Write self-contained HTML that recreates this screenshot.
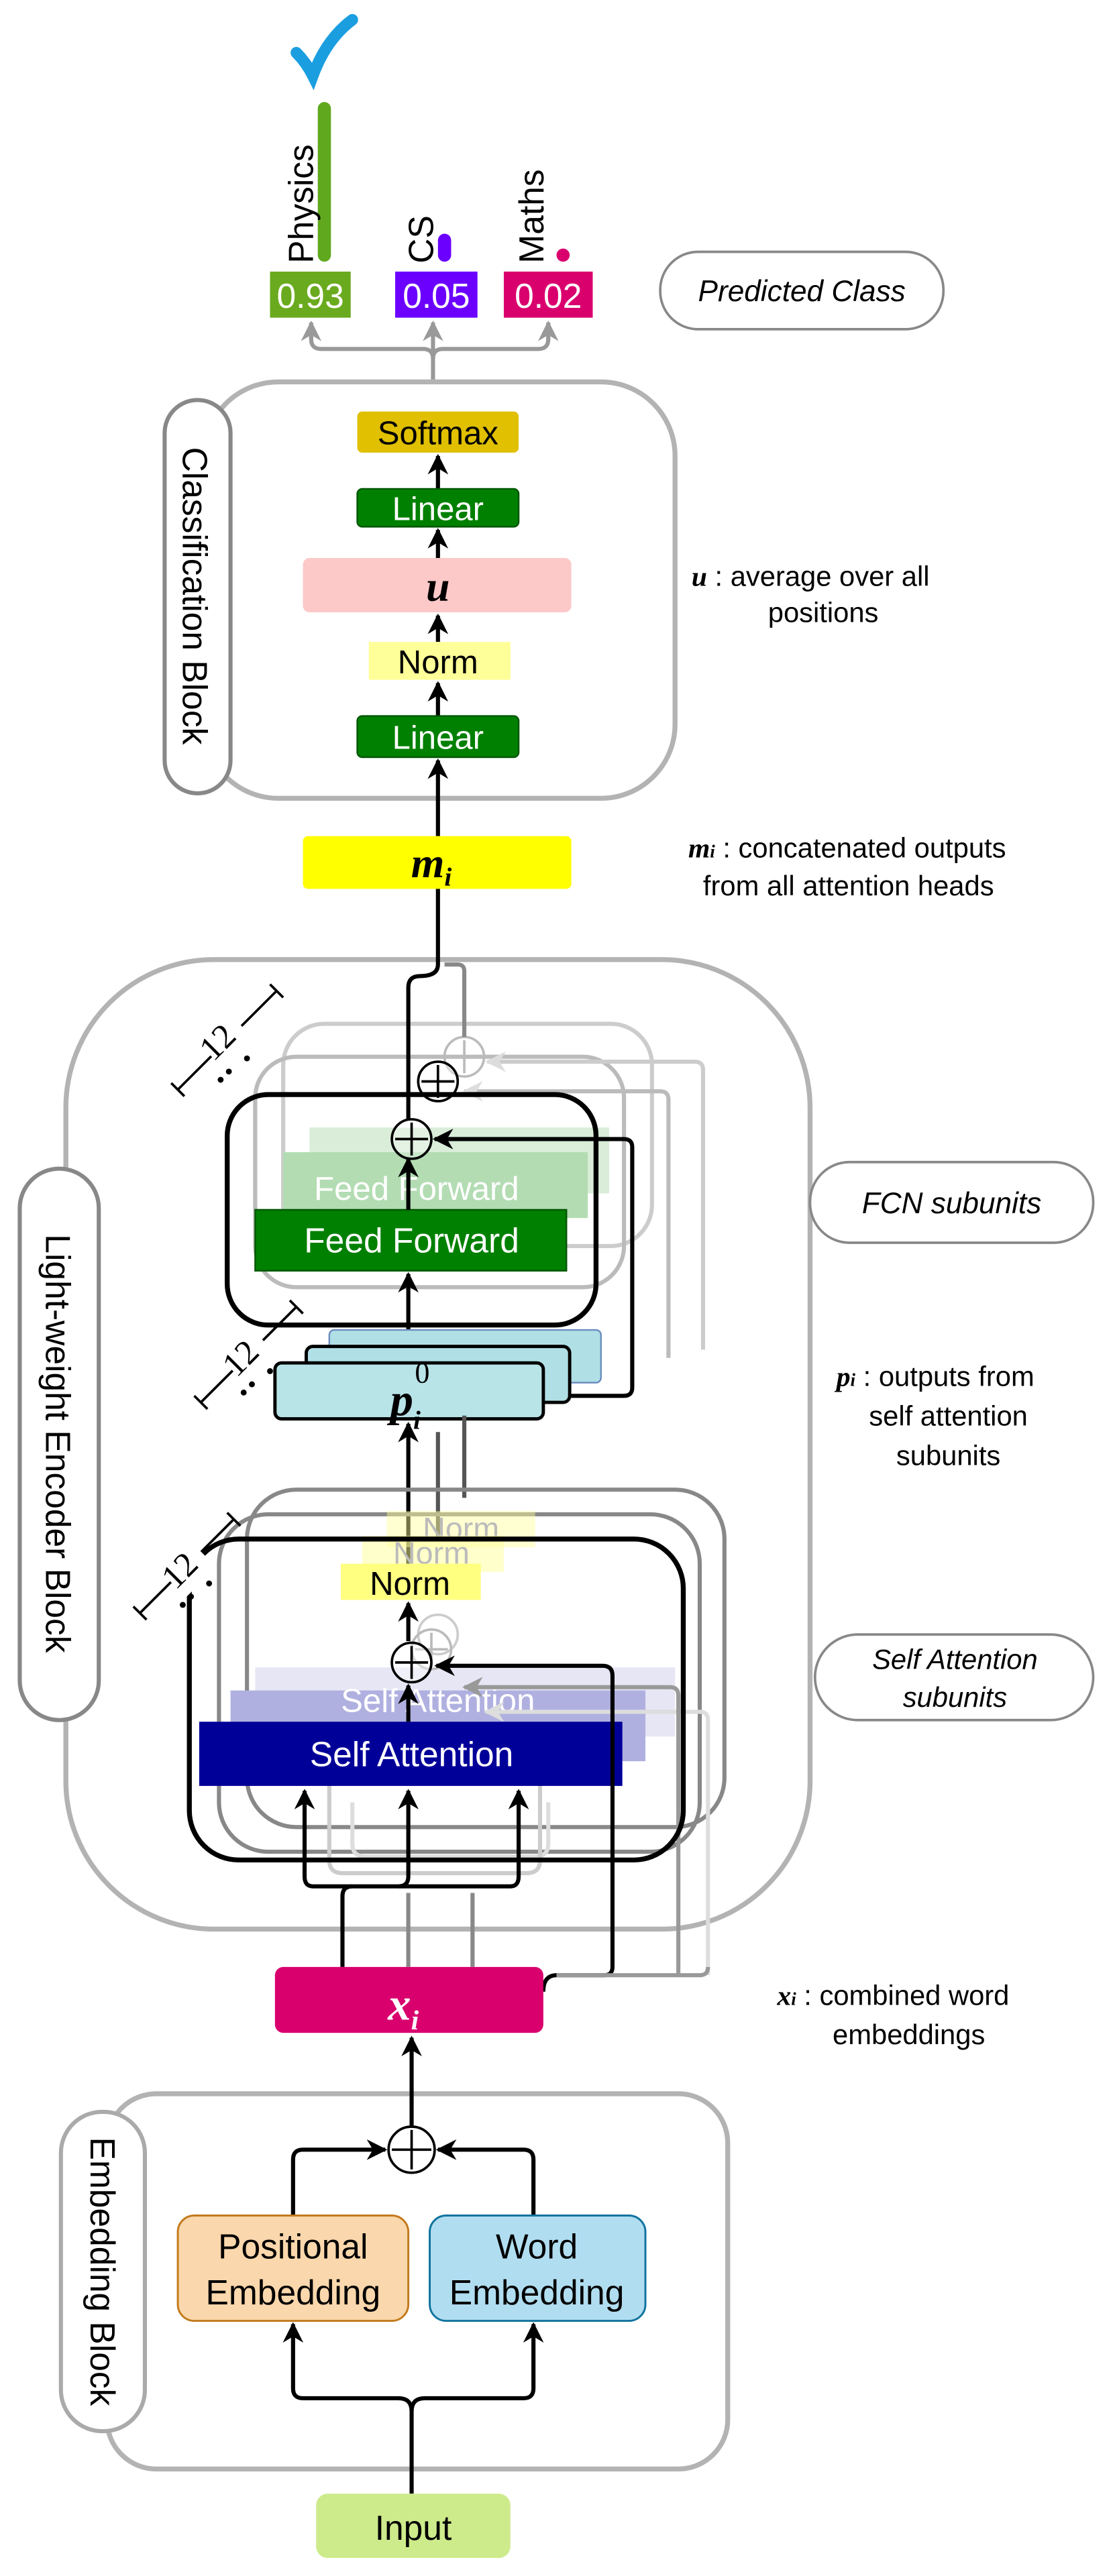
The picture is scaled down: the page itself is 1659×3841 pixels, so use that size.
<!DOCTYPE html>
<html><head><meta charset="utf-8"><style>html,body{margin:0;padding:0;background:#fff}svg{display:block}</style></head>
<body>
<svg width="1659" height="3841" viewBox="0 0 676 1565" preserveAspectRatio="none" xmlns="http://www.w3.org/2000/svg" font-family="Liberation Sans, sans-serif">
<defs>
<marker id="ab" viewBox="0 0 10 10" refX="9" refY="5" markerWidth="5" markerHeight="5" orient="auto"><path d="M0,0 L10,5 L0,10 L3,5z" fill="#000"/></marker>
<marker id="ag" viewBox="0 0 10 10" refX="9" refY="5" markerWidth="5" markerHeight="5" orient="auto"><path d="M0,0 L10,5 L0,10 L3,5z" fill="#999"/></marker>
<marker id="al" viewBox="0 0 10 10" refX="9" refY="5" markerWidth="5" markerHeight="5" orient="auto"><path d="M0,0 L10,5 L0,10 L3,5z" fill="#ddd"/></marker>
</defs>

<path d="M180,32 Q186,38 190,46 Q198,24 214,12" fill="none" stroke="#1a9ee0" stroke-width="7" stroke-linecap="round"/>
<rect x="193" y="62" width="8" height="97" rx="4" fill="#60a91e"/>
<rect x="266" y="142" width="8" height="17" rx="4" fill="#6b00ff"/>
<circle cx="342" cy="155" r="4" fill="#d9006e"/>
<text transform="translate(190,160) rotate(-90)" font-size="21">Physics</text>
<text transform="translate(263,160) rotate(-90)" font-size="21">CS</text>
<text transform="translate(330,160) rotate(-90)" font-size="21">Maths</text>
<rect x="164" y="165" width="49" height="28" fill="#6aaa1e"/>
<rect x="240" y="165" width="50" height="28" fill="#6b00ff"/>
<rect x="306" y="165" width="54" height="28" fill="#d9006e"/>
<text x="188.5" y="187" font-size="21" fill="#fff" text-anchor="middle">0.93</text>
<text x="265" y="187" font-size="21" fill="#fff" text-anchor="middle">0.05</text>
<text x="333" y="187" font-size="21" fill="#fff" text-anchor="middle">0.02</text>
<rect x="401" y="153" width="172" height="47" rx="23" fill="#fff" stroke="#888" stroke-width="1.5"/>
<text x="487" y="183" font-size="18" font-style="italic" text-anchor="middle">Predicted Class</text>
<path d="M263,250 V218 M263,218 Q263,212 257,212 H195 Q189,212 189,206 V196 M263,218 Q263,212 269,212 H327 Q333,212 333,206 V196 M263,218 V196" fill="none" stroke="#999" stroke-width="2.5" marker-end="url(#ag)"/>
<path d="M189,206 V196" stroke="#999" stroke-width="2.5" marker-end="url(#ag)"/>
<path d="M333,206 V196" stroke="#999" stroke-width="2.5" marker-end="url(#ag)"/>

<rect x="124" y="232" width="286" height="253" rx="45" fill="#fff" stroke="#b3b3b3" stroke-width="3"/>
<rect x="100" y="243" width="40" height="239" rx="20" fill="#fff" stroke="#888" stroke-width="2.5"/>
<text transform="translate(111,362) rotate(90)" font-size="21" text-anchor="middle">Classification Block</text>
<path d="M266,508 V462" stroke="#000" stroke-width="2.5" marker-end="url(#ab)"/>
<path d="M266,435 V415" stroke="#000" stroke-width="2.5" marker-end="url(#ab)"/>
<path d="M266,390 V374" stroke="#000" stroke-width="2.5" marker-end="url(#ab)"/>
<path d="M266,339 V322" stroke="#000" stroke-width="2.5" marker-end="url(#ab)"/>
<path d="M266,297 V277" stroke="#000" stroke-width="2.5" marker-end="url(#ab)"/>
<rect x="217" y="250" width="98" height="25" rx="3" fill="#e0c000"/>
<text x="266" y="270" font-size="20" text-anchor="middle">Softmax</text>
<rect x="217" y="297" width="98" height="23" rx="3" fill="#008000" stroke="#005700"/>
<text x="266" y="316" font-size="20" fill="#fff" text-anchor="middle">Linear</text>
<rect x="184" y="339" width="163" height="33" rx="4" fill="#fcc8c8"/>
<text x="266" y="365" font-size="26" font-style="italic" font-family="Liberation Serif, serif" font-weight="bold" text-anchor="middle">u</text>
<rect x="224" y="390" width="86" height="23" fill="#ffff99"/>
<text x="266" y="409" font-size="20" text-anchor="middle">Norm</text>
<rect x="217" y="435" width="98" height="25" rx="3" fill="#008000" stroke="#005700"/>
<text x="266" y="455" font-size="20" fill="#fff" text-anchor="middle">Linear</text>
<text x="420" y="356" font-size="17"><tspan font-style="italic" font-weight="bold" font-family="Liberation Serif, serif">u</tspan> : average over all</text>
<text x="500" y="378" font-size="17" text-anchor="middle">positions</text>

<rect x="184" y="508" width="163" height="32" rx="3" fill="#ffff00"/>
<text x="262" y="533" font-size="26" font-style="italic" font-weight="bold" font-family="Liberation Serif, serif" text-anchor="middle">m<tspan font-size="16" dy="5">i</tspan></text>
<text x="418" y="521" font-size="17"><tspan font-style="italic" font-weight="bold" font-family="Liberation Serif, serif">m<tspan font-size="11">i</tspan></tspan> : concatenated outputs</text>
<text x="427" y="544" font-size="17">from all attention heads</text>

<rect x="40" y="583" width="452" height="589" rx="90" fill="#fff" stroke="#b3b3b3" stroke-width="3"/>
<rect x="12" y="710" width="48" height="335" rx="24" fill="#fff" stroke="#888" stroke-width="2.5"/>
<text transform="translate(28,877) rotate(90)" font-size="21" text-anchor="middle">Light-weight Encoder Block</text>

<rect x="172" y="622" width="224" height="135" rx="25" fill="none" stroke="#ccc" stroke-width="2.5"/>
<rect x="155" y="642" width="224" height="140" rx="25" fill="none" stroke="#bbb" stroke-width="2.5"/>
<rect x="188" y="685" width="182" height="40" fill="#b3dcb3" opacity="0.5"/>
<rect x="172" y="700" width="185" height="40" fill="#b3dcb3"/>
<text x="253" y="729" font-size="20" fill="#fff" text-anchor="middle">Feed Forward</text>
<path d="M427,820 V650 Q427,645 422,645 H296" fill="none" stroke="#ccc" stroke-width="2.5" marker-end="url(#al)"/>
<path d="M406,825 V668 Q406,663 401,663 H282" fill="none" stroke="#bbb" stroke-width="2.5" marker-end="url(#al)"/>
<circle cx="282" cy="642" r="12" fill="none" stroke="#bbb" stroke-width="1.5"/>
<path d="M272,642 H292 M282,632 V652" stroke="#bbb" stroke-width="1.5"/>
<circle cx="266" cy="657" r="12" fill="#fff" fill-opacity="0.4" stroke="#000" stroke-width="1.5"/>
<path d="M256,657 H276 M266,647 V667" stroke="#000" stroke-width="1.5"/>
<path d="M282,630 V590 Q282,586 278,586 H270" fill="none" stroke="#888" stroke-width="2.5"/>

<rect x="138" y="665" width="224" height="140" rx="25" fill="none" stroke="#000" stroke-width="3"/>
<rect x="155" y="735" width="189" height="37" fill="#008000" stroke="#005700"/>
<text x="250" y="761" font-size="21" fill="#fff" text-anchor="middle">Feed Forward</text>
<path d="M248,735 V704" stroke="#000" stroke-width="2.5" marker-end="url(#ab)"/>
<path d="M248,828 V774" stroke="#000" stroke-width="2.5" marker-end="url(#ab)"/>
<circle cx="250" cy="692" r="12" fill="#fff" fill-opacity="0.3" stroke="#000" stroke-width="1.5"/>
<path d="M240,692 H260 M250,682 V702" stroke="#000" stroke-width="1.5"/>
<path d="M248,680 V600 Q248,593 255,593 Q266,593 266,586 V540" fill="none" stroke="#000" stroke-width="2.5"/>
<path d="M330,848 H379 Q384,848 384,843 V697 Q384,692 379,692 H264" fill="none" stroke="#000" stroke-width="2.5" marker-end="url(#ab)"/>

<rect x="200" y="808" width="165" height="32" rx="3" fill="#b0e0e6" stroke="#6c8ebf" stroke-width="1"/>
<text x="277" y="830" font-size="14" font-family="Liberation Serif, serif">11</text>
<rect x="186" y="818" width="160" height="34" rx="4" fill="#b0e0e6" stroke="#000" stroke-width="2"/>
<text x="262" y="840" font-size="14" font-family="Liberation Serif, serif">1</text>
<rect x="167" y="828" width="163" height="34" rx="4" fill="#b8e4e8" stroke="#000" stroke-width="2"/>
<text x="237" y="860" font-size="28" font-style="italic" font-weight="bold" font-family="Liberation Serif, serif">p<tspan font-size="16" dy="8">i</tspan></text>
<text x="252" y="840" font-size="18" font-family="Liberation Serif, serif">0</text>
<path d="M248,950 V865" stroke="#000" stroke-width="2.5" marker-end="url(#ab)"/>
<path d="M266,935 V870 M282,910 V860" stroke="#555" stroke-width="2.5"/>

<rect x="150" y="905" width="290" height="205" rx="30" fill="none" stroke="#888" stroke-width="2.5"/>
<rect x="133" y="920" width="292" height="205" rx="30" fill="none" stroke="#888" stroke-width="2.5"/>
<rect x="235" y="918" width="90" height="22" fill="#ffff99" opacity="0.45"/>
<text x="280" y="935" font-size="19" fill="#bbb" text-anchor="middle">Norm</text>
<rect x="220" y="933" width="86" height="22" fill="#ffff99" opacity="0.5"/>
<text x="262" y="950" font-size="19" fill="#bbb" text-anchor="middle">Norm</text>
<rect x="155" y="1013" width="255" height="42" fill="#e6e6f5"/>
<rect x="140" y="1027" width="252" height="43" fill="#b0b0e0"/>
<text x="266" y="1040" font-size="20" fill="#fff" text-anchor="middle">Self Attention</text>
<path d="M430,1200 V1045 Q430,1040 425,1040 H295" fill="none" stroke="#ddd" stroke-width="2.5" marker-end="url(#al)"/>
<path d="M412,1200 V1030 Q412,1025 407,1025 H282" fill="none" stroke="#999" stroke-width="2.5" marker-end="url(#ag)"/>
<circle cx="266" cy="993" r="12" fill="none" stroke="#ccc" stroke-width="1.5"/>
<circle cx="262" cy="1002" r="12" fill="none" stroke="#bbb" stroke-width="1.5"/>
<path d="M252,1002 H272 M262,992 V1012" stroke="#bbb" stroke-width="1.5"/>
<path d="M214,1095 V1120 Q214,1128 222,1128 H325 Q333,1128 333,1120 V1095" fill="none" stroke="#ddd" stroke-width="2.5"/>
<path d="M200,1080 V1130 Q200,1138 208,1138 H320 Q328,1138 328,1130 V1080" fill="none" stroke="#ccc" stroke-width="2.5"/>

<rect x="115" y="935" width="300" height="195" rx="30" fill="none" stroke="#000" stroke-width="3"/>
<rect x="121" y="1046" width="257" height="39" fill="#000099"/>
<text x="250" y="1073" font-size="21" fill="#fff" text-anchor="middle">Self Attention</text>
<rect x="207" y="950" width="85" height="22" fill="#ffff80"/>
<text x="249" y="969" font-size="20" text-anchor="middle">Norm</text>
<circle cx="250" cy="1010" r="12" fill="#fff" fill-opacity="0.4" stroke="#000" stroke-width="1.5"/>
<path d="M240,1010 H260 M250,1000 V1020" stroke="#000" stroke-width="1.5"/>
<path d="M248,1046 V1024" stroke="#000" stroke-width="2.5" marker-end="url(#ab)"/>
<path d="M248,997 V974" stroke="#000" stroke-width="2.5" marker-end="url(#ab)"/>
<path d="M208,1195 V1152 Q208,1146 214,1146 H242 Q248,1146 248,1140 V1088" fill="none" stroke="#000" stroke-width="2.5" marker-end="url(#ab)"/>
<path d="M214,1146 H190 Q185,1146 185,1140 V1088" fill="none" stroke="#000" stroke-width="2.5" marker-end="url(#ab)"/>
<path d="M242,1146 H310 Q315,1146 315,1140 V1088" fill="none" stroke="#000" stroke-width="2.5" marker-end="url(#ab)"/>
<path d="M248,1195 V1150 M287,1195 V1150" stroke="#888" stroke-width="2.5"/>
<path d="M330,1210 Q330,1200 338,1200 H367 Q372,1200 372,1195 V1018 Q372,1012 366,1012 H265" fill="none" stroke="#000" stroke-width="2.5" marker-end="url(#ab)"/>
<path d="M338,1200 H425 Q430,1200 430,1195" fill="none" stroke="#999" stroke-width="2.5"/>

<g stroke="#000" stroke-width="1.5" fill="none">
<path d="M108,662 L168,602 M104,658 L112,666 M164,598 L172,606"/>
<path d="M122,852 L180,794 M118,848 L126,856 M176,790 L184,798"/>
<path d="M85,980 L142,923 M81,976 L89,984 M138,919 L146,927"/>
</g>
<rect x="123" y="618" width="26" height="26" fill="#fff" transform="rotate(-45 136 631)"/>
<text transform="translate(137,638) rotate(-45)" font-size="21" font-family="Liberation Serif, serif" text-anchor="middle">12</text>
<rect x="137" y="810" width="26" height="26" fill="#fff" transform="rotate(-45 150 823)"/>
<text transform="translate(151,830) rotate(-45)" font-size="21" font-family="Liberation Serif, serif" text-anchor="middle">12</text>
<rect x="100" y="939" width="26" height="26" fill="#fff" transform="rotate(-45 113 952)"/>
<text transform="translate(114,959) rotate(-45)" font-size="21" font-family="Liberation Serif, serif" text-anchor="middle">12</text>
<g fill="#000"><circle cx="134" cy="656" r="1.8"/><circle cx="139" cy="651" r="1.8"/><circle cx="150" cy="643" r="1.8"/>
<circle cx="148" cy="846" r="1.8"/><circle cx="153" cy="841" r="1.8"/><circle cx="164" cy="833" r="1.8"/>
<circle cx="111" cy="975" r="1.8"/><circle cx="116" cy="970" r="1.8"/><circle cx="127" cy="962" r="1.8"/></g>

<rect x="492" y="706" width="172" height="49" rx="24" fill="#fff" stroke="#888" stroke-width="1.5"/>
<text x="578" y="737" font-size="18" font-style="italic" text-anchor="middle">FCN subunits</text>
<text x="508" y="842" font-size="17"><tspan font-style="italic" font-weight="bold" font-family="Liberation Serif, serif">p<tspan font-size="11">i</tspan></tspan> : outputs from</text>
<text x="576" y="866" font-size="17" text-anchor="middle">self attention</text>
<text x="576" y="890" font-size="17" text-anchor="middle">subunits</text>
<rect x="495" y="993" width="169" height="52" rx="26" fill="#fff" stroke="#888" stroke-width="1.5"/>
<text x="580" y="1014" font-size="17" font-style="italic" text-anchor="middle">Self Attention</text>
<text x="580" y="1037" font-size="17" font-style="italic" text-anchor="middle">subunits</text>

<rect x="167" y="1195" width="163" height="40" rx="5" fill="#d9006e"/>
<text x="245" y="1227" font-size="28" font-style="italic" font-weight="bold" font-family="Liberation Serif, serif" fill="#fff" text-anchor="middle">x<tspan font-size="17" dy="6">i</tspan></text>
<text x="472" y="1218" font-size="17"><tspan font-style="italic" font-weight="bold" font-family="Liberation Serif, serif">x<tspan font-size="11">i</tspan></tspan> : combined word</text>
<text x="552" y="1242" font-size="17" text-anchor="middle">embeddings</text>

<rect x="65" y="1272" width="377" height="228" rx="30" fill="#fff" stroke="#b3b3b3" stroke-width="3"/>
<rect x="37" y="1283" width="51" height="194" rx="25" fill="#fff" stroke="#aaa" stroke-width="2.5"/>
<text x="0" y="0" transform="translate(55,1380) rotate(90)" font-size="21" text-anchor="middle">Embedding Block</text>
<path d="M250,1292 V1238" stroke="#000" stroke-width="2.5" marker-end="url(#ab)"/>
<circle cx="250" cy="1306" r="14" fill="#fff" stroke="#000" stroke-width="1.5"/>
<path d="M238,1306 H262 M250,1294 V1318" stroke="#000" stroke-width="1.5"/>
<path d="M178,1346 V1312 Q178,1306 184,1306 H234" fill="none" stroke="#000" stroke-width="2.5" marker-end="url(#ab)"/>
<path d="M324,1346 V1312 Q324,1306 318,1306 H266" fill="none" stroke="#000" stroke-width="2.5" marker-end="url(#ab)"/>
<path d="M250,1515 V1465 Q250,1457 242,1457 H184 Q178,1457 178,1451 V1412" fill="none" stroke="#000" stroke-width="2.5" marker-end="url(#ab)"/>
<path d="M250,1465 Q250,1457 258,1457 H318 Q324,1457 324,1451 V1412" fill="none" stroke="#000" stroke-width="2.5" marker-end="url(#ab)"/>
<rect x="108" y="1346" width="140" height="64" rx="10" fill="#fad7ac" stroke="#c27a1c" stroke-width="1.2"/>
<text x="178" y="1372" font-size="21" text-anchor="middle">Positional</text>
<text x="178" y="1400" font-size="21" text-anchor="middle">Embedding</text>
<rect x="261" y="1346" width="131" height="64" rx="10" fill="#b1ddf0" stroke="#10739e" stroke-width="1.2"/>
<text x="326" y="1372" font-size="21" text-anchor="middle">Word</text>
<text x="326" y="1400" font-size="21" text-anchor="middle">Embedding</text>
<rect x="192" y="1515" width="118" height="39" rx="7" fill="#cdeb8b"/>
<text x="251" y="1543" font-size="21" text-anchor="middle">Input</text>
</svg>
</body></html>
